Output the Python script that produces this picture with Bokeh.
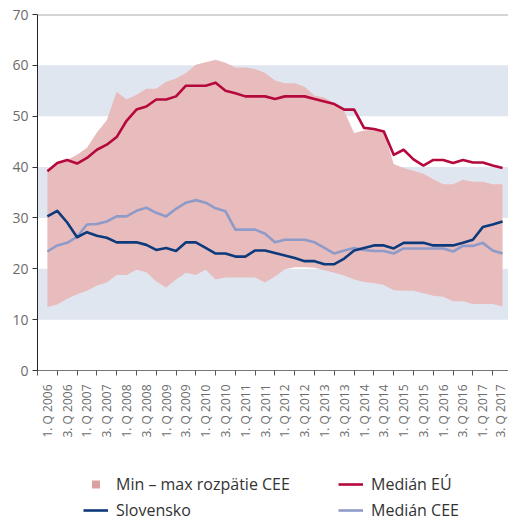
import math
from bokeh.plotting import figure
from bokeh.layouts import column
from bokeh.models import Range1d, FixedTicker, BoxAnnotation, Legend, LegendItem, Span
from bokeh.embed import file_html
from bokeh.resources import INLINE

# quarter index 1 = 1. Q 2006 ... 47 = 3. Q 2017
tick_labels = ["1. Q 2006", "3. Q 2006", "1. Q 2007", "3. Q 2007", "1. Q 2008", "3. Q 2008",
               "1. Q 2009", "3. Q 2009", "1. Q 2010", "3. Q 2010", "1. Q 2011", "3. Q 2011",
               "1. Q 2012", "3. Q 2012", "1. Q 2013", "3. Q 2013", "1. Q 2014", "3. Q 2014",
               "1. Q 2015", "3. Q 2015", "1. Q 2016", "3. Q 2016", "1. Q 2017", "3. Q 2017"]

median_eu = [39.2, 40.8, 41.4, 40.7, 41.8, 43.4, 44.4, 45.9, 49.1, 51.3, 51.9, 53.3,
             53.3, 53.9, 56.0, 56.0, 56.0, 56.6, 55.0, 54.5, 53.9, 53.9, 53.9, 53.4,
             53.9, 53.9, 53.9, 53.4, 52.9, 52.4, 51.3, 51.3, 47.7, 47.5, 47.0, 42.4,
             43.4, 41.5, 40.3, 41.4, 41.4, 40.8, 41.4, 40.9, 40.9, 40.3, 39.8]

slovensko = [30.3, 31.4, 29.1, 26.2, 27.2, 26.5, 26.1, 25.2, 25.2, 25.2, 24.7, 23.7,
             24.1, 23.5, 25.2, 25.2, 24.1, 23.0, 23.0, 22.4, 22.4, 23.6, 23.6, 23.1,
             22.6, 22.1, 21.5, 21.5, 20.9, 20.9, 22.0, 23.6, 24.1, 24.6, 24.6, 24.0,
             25.1, 25.1, 25.1, 24.6, 24.6, 24.6, 25.1, 25.7, 28.2, 28.7, 29.3]

median_cee = [23.4, 24.6, 25.1, 26.3, 28.7, 28.8, 29.3, 30.3, 30.3, 31.4, 32.0, 31.0,
              30.3, 31.8, 33.0, 33.5, 33.0, 31.9, 31.3, 27.7, 27.7, 27.7, 26.9, 25.2,
              25.7, 25.7, 25.7, 25.2, 24.1, 23.0, 23.6, 24.1, 23.7, 23.5, 23.5, 23.0,
              24.0, 24.0, 24.0, 24.0, 24.0, 23.4, 24.5, 24.5, 25.1, 23.6, 23.0]

cee_min = [12.5, 13.0, 14.1, 15.0, 15.7, 16.7, 17.3, 18.8, 18.8, 19.8, 19.3, 17.5,
           16.3, 17.9, 19.2, 18.8, 19.8, 17.9, 18.3, 18.3, 18.3, 18.3, 17.3, 18.5,
           19.9, 20.3, 20.3, 20.2, 19.7, 19.2, 18.7, 17.9, 17.4, 17.2, 16.8, 15.8,
           15.7, 15.7, 15.2, 14.7, 14.5, 13.6, 13.6, 13.1, 13.1, 13.1, 12.6]

cee_max = [39.2, 40.8, 41.4, 42.4, 43.8, 46.8, 49.2, 54.8, 53.3, 54.2, 55.4, 55.4,
           56.8, 57.4, 58.5, 60.1, 60.6, 61.1, 60.5, 59.6, 59.6, 59.3, 58.5, 57.0,
           56.5, 56.5, 55.8, 54.0, 53.7, 52.5, 51.0, 46.7, 47.2, 47.3, 47.0, 40.6,
           39.8, 39.3, 38.7, 37.6, 36.6, 36.6, 37.5, 37.1, 37.1, 36.6, 36.6]

xs = list(range(1, len(median_eu) + 1))

FONT = "Open Sans"
GREY = "#6b6b6b"
C_AREA = "#e8bcbc"
C_CEE = "#8e9bc9"
C_SK = "#0d3a7c"
C_EU = "#b5083c"

p = figure(width=508, height=467, output_backend="svg", toolbar_location=None,
           x_range=Range1d(0, 47.6), y_range=Range1d(0, 70),
           min_border_left=37, min_border_right=0, min_border_top=14, min_border_bottom=97)
p.outline_line_color = None
p.xgrid.visible = False
p.ygrid.visible = False

for lo in (10, 30, 50):
    p.add_layout(BoxAnnotation(bottom=lo, top=lo + 10, fill_color="#dfe6f0", fill_alpha=1.0,
                               line_color=None, level="underlay"))
p.add_layout(Span(location=70, dimension="width", line_color="#aaaaaa", line_width=2))

p.varea(x=xs, y1=cee_min, y2=cee_max, fill_color=C_AREA, fill_alpha=1.0)
p.line(xs, median_cee, line_color=C_CEE, line_width=2.6, line_join="round")
p.line(xs, slovensko, line_color=C_SK, line_width=2.6, line_join="round")
p.line(xs, median_eu, line_color=C_EU, line_width=2.6, line_join="round")

# x axis
label_pos = list(range(1, 48, 2))
p.xaxis.ticker = FixedTicker(ticks=label_pos, minor_ticks=list(range(0, 48, 2)))
p.xaxis.major_label_overrides = {pos: lab for pos, lab in zip(label_pos, tick_labels)}
p.xaxis.major_label_orientation = math.pi / 2
p.xaxis.major_tick_line_color = None
p.xaxis.major_tick_out = 0
p.xaxis.major_tick_in = 0
p.xaxis.minor_tick_out = 5
p.xaxis.minor_tick_in = 0
p.xaxis.minor_tick_line_color = "#555555"
p.xaxis.axis_line_color = "#777777"
p.xaxis.major_label_standoff = 9
p.xaxis.major_label_text_font = FONT
p.xaxis.major_label_text_font_size = "12px"
p.xaxis.major_label_text_color = GREY

# y axis
p.yaxis.ticker = FixedTicker(ticks=[0, 10, 20, 30, 40, 50, 60, 70], minor_ticks=[])
p.yaxis.major_tick_out = 5
p.yaxis.major_tick_in = 0
p.yaxis.major_tick_line_color = "#333333"
p.yaxis.axis_line_color = "#222222"
p.yaxis.major_label_standoff = 4
p.yaxis.major_label_text_font = FONT
p.yaxis.major_label_text_font_size = "14px"
p.yaxis.major_label_text_color = GREY

# legend strip (its frame is aligned with the main frame by the column layout)
pl = figure(width=508, height=54, output_backend="svg", toolbar_location=None,
            x_range=Range1d(0, 1), y_range=Range1d(0, 1),
            min_border_left=0, min_border_right=0, min_border_top=0, min_border_bottom=0)
pl.axis.visible = False
pl.grid.visible = False
pl.outline_line_color = None
off = dict(x=[-5], y=[-5])
r_sq = pl.scatter(marker="square", size=10, fill_color="#dba0a0", line_color=None, **off)
r_sk = pl.line(line_color=C_SK, line_width=2.6, **off)
r_eu = pl.line(line_color=C_EU, line_width=2.6, **off)
r_cee = pl.line(line_color=C_CEE, line_width=2.6, **off)


def make_legend(items, x):
    return Legend(items=items, location=(x, 0), orientation="vertical",
                  label_text_font=FONT, label_text_font_size="16px", label_text_color="#333333",
                  glyph_width=25, glyph_height=20, label_height=20, spacing=4,
                  label_standoff=8, padding=0, margin=0,
                  border_line_color=None, background_fill_alpha=0)


pl.add_layout(make_legend([LegendItem(label="Min – max rozpätie CEE", renderers=[r_sq]),
                           LegendItem(label="Slovensko", renderers=[r_sk])], 46))
pl.add_layout(make_legend([LegendItem(label="Medián EÚ", renderers=[r_eu]),
                           LegendItem(label="Medián CEE", renderers=[r_cee])], 301))

open("out.html", "w").write(file_html(column(p, pl), INLINE))
